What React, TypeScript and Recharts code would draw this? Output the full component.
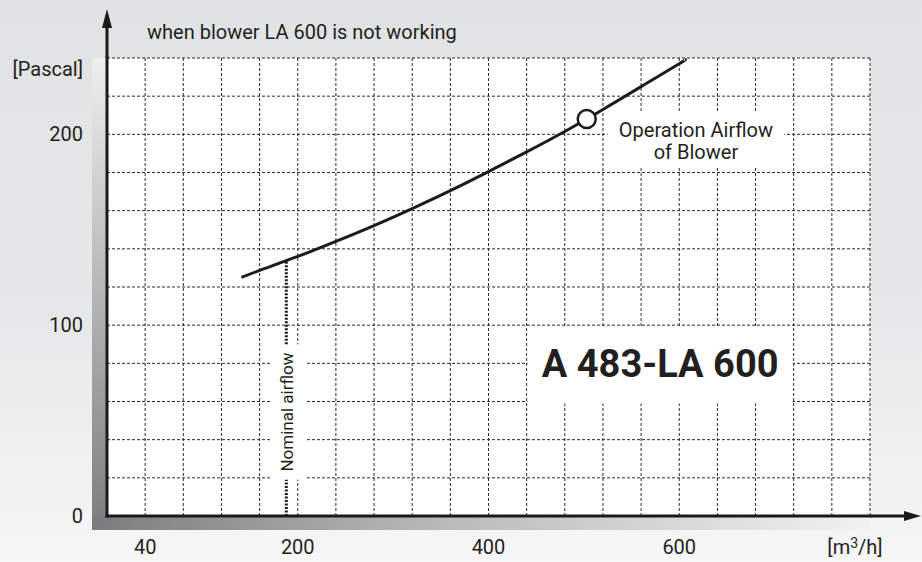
import { LineChart, Line, XAxis, YAxis, CartesianGrid, ReferenceArea, ReferenceLine } from 'recharts';

// blower curve A 483-LA 600, read from the sheet
const flow = [141, 160, 200, 240, 280, 320, 360, 400, 440, 480, 503, 520, 560, 600, 606];
const pressure = [125, 128.7, 136, 143.9, 152.2, 161.1, 170.5, 180.5, 190.8, 201.5, 208, 213, 225, 237, 239];

const xTicks = [40, 200, 400, 600];
const yTicks = [0, 100, 200];
const gridX = [0, 40, 80, 120, 160, 200, 240, 280, 320, 360, 400, 440, 480, 520, 560, 600, 640, 680, 720, 760, 800];
const gridY = [0, 20, 40, 60, 80, 100, 120, 140, 160, 180, 200, 220, 240];

const operationFlow = 503;
const nominalFlow = 188;
const nominalPressure = 134;

const data = flow.map((f, i) => ({ flow: f, pressure: pressure[i] }));

const ink = '#231f20';

function YTitle({ viewBox }: any) {
  const { x, y, width } = viewBox;
  return (
    <g fill={ink} fontSize={20}>
      <text x={x + width + 40} y={y - 19}>when blower LA 600 is not working</text>
      <text x={x + width - 24} y={y + 18} textAnchor="end">[Pascal]</text>
    </g>
  );
}

function XUnit({ viewBox }: any) {
  const { x, y, width } = viewBox;
  return (
    <text x={x + width - 15} y={y + 38} textAnchor="middle" fill={ink} fontSize={20}>
      [m<tspan fontSize={14} dy={-6}>3</tspan>
      <tspan dy={6}>/h]</tspan>
    </text>
  );
}

function ModelText({ viewBox }: any) {
  const { x, y, width, height } = viewBox;
  return (
    <text x={x + width / 2} y={y + height / 2 + 12} textAnchor="middle" fill={ink} fontSize={38} fontWeight={700}>
      A 483-LA 600
    </text>
  );
}

function OperationText({ viewBox }: any) {
  const { x, y, width, height } = viewBox;
  const cx = x + width / 2;
  const cy = y + height / 2;
  return (
    <text textAnchor="middle" fill={ink} fontSize={20}>
      <tspan x={cx} y={cy - 2}>Operation Airflow</tspan>
      <tspan x={cx} y={cy + 20}>of Blower</tspan>
    </text>
  );
}

function NominalText({ viewBox }: any) {
  const { x, y, width, height } = viewBox;
  const cx = x + width / 2 - 1;
  const cy = y + height / 2;
  return (
    <text x={cx} y={cy + 6} textAnchor="middle" fill={ink} fontSize={17} transform={`rotate(-90 ${cx} ${cy})`}>
      Nominal airflow
    </text>
  );
}

const renderDot = (props: any) => {
  const { cx, cy, payload, index } = props;
  if (payload.flow !== operationFlow) return <g key={`d-${index}`} />;
  return <circle key={`d-${index}`} cx={cx} cy={cy} r={9} fill="#fff" stroke="#1c1c1c" strokeWidth={2.5} />;
};

export default function App() {
  return (
    <div
      style={{
        position: 'absolute',
        left: 0,
        top: 0,
        width: 922,
        height: 562,
        background: 'linear-gradient(to bottom, #e1e2e3 0%, #e6e7e8 55%, #f6f6f6 100%)',
        fontFamily: 'Roboto, sans-serif',
        overflow: 'hidden',
      }}
    >
      {/* shaded frame behind the axes */}
      <div style={{ position: 'absolute', left: 92, top: 58, width: 15, height: 472, background: 'linear-gradient(to bottom, #eeeeee, #7c7c7f)' }} />
      <div style={{ position: 'absolute', left: 92, top: 516, width: 778, height: 14, background: 'linear-gradient(to right, #7c7c7f 0%, #b9b9bb 45%, #f1f1f1 100%)' }} />
      <div style={{ position: 'absolute', left: 0, top: 0 }}>
        <LineChart width={922} height={562} data={data} margin={{ top: 58, right: 52, bottom: 0, left: 0 }}>
          <defs>
            <marker id="arrowX" markerUnits="userSpaceOnUse" markerWidth={60} markerHeight={20} refX={0} refY={10} orient="auto" overflow="visible">
              <path d="M0,8.5 H34 V5 L51,10 L34,15 V11.5 H0 Z" fill="#1a1a1a" />
            </marker>
            <marker id="arrowY" markerUnits="userSpaceOnUse" markerWidth={60} markerHeight={20} refX={0} refY={10} orient="auto-start-reverse" overflow="visible">
              <path d="M0,8.5 H30 V5 L49,10 L30,15 V11.5 H0 Z" fill="#1a1a1a" />
            </marker>
          </defs>
          <CartesianGrid
            fill="#ffffff"
            fillOpacity={1}
            stroke="#2a2a2a"
            strokeDasharray="3 2"
            verticalValues={gridX}
            horizontalValues={gridY}
          />
          <XAxis
            type="number"
            dataKey="flow"
            domain={[0, 800]}
            ticks={xTicks}
            height={46}
            tickLine={false}
            tickSize={0}
            tickMargin={24}
            axisLine={{ stroke: '#1a1a1a', strokeWidth: 3, strokeLinecap: 'square', markerEnd: 'url(#arrowX)' }}
            tick={{ fill: ink, fontSize: 20 }}
            label={<XUnit />}
          />
          <YAxis
            type="number"
            domain={[0, 240]}
            ticks={yTicks}
            width={107}
            tickLine={false}
            tickSize={0}
            tickMargin={24}
            axisLine={{ stroke: '#1a1a1a', strokeWidth: 3, strokeLinecap: 'square', markerStart: 'url(#arrowY)' }}
            tick={{ fill: ink, fontSize: 20 }}
            label={<YTitle />}
          />
          <ReferenceArea x1={441} x2={719} y1={59} y2={99.5} fill="#ffffff" fillOpacity={1} stroke="none" label={<ModelText />} />
          <ReferenceArea x1={525} x2={710} y1={183} y2={212} fill="#ffffff" fillOpacity={1} stroke="none" label={<OperationText />} />
          <ReferenceArea x1={171} x2={207.6} y1={19} y2={90} fill="#ffffff" fillOpacity={1} stroke="none" label={<NominalText />} />
          <ReferenceLine
            segment={[{ x: nominalFlow, y: 0 }, { x: nominalFlow, y: 19 }]}
            stroke="#1a1a1a"
            strokeWidth={3}
            strokeDasharray="2 1.5"
          />
          <ReferenceLine
            segment={[{ x: nominalFlow, y: 90 }, { x: nominalFlow, y: nominalPressure }]}
            stroke="#1a1a1a"
            strokeWidth={3}
            strokeDasharray="2 1.5"
          />
          <Line
            type="natural"
            dataKey="pressure"
            stroke="#1c1c1c"
            strokeWidth={3}
            dot={renderDot}
            activeDot={false}
            isAnimationActive={false}
          />
        </LineChart>
      </div>
    </div>
  );
}
